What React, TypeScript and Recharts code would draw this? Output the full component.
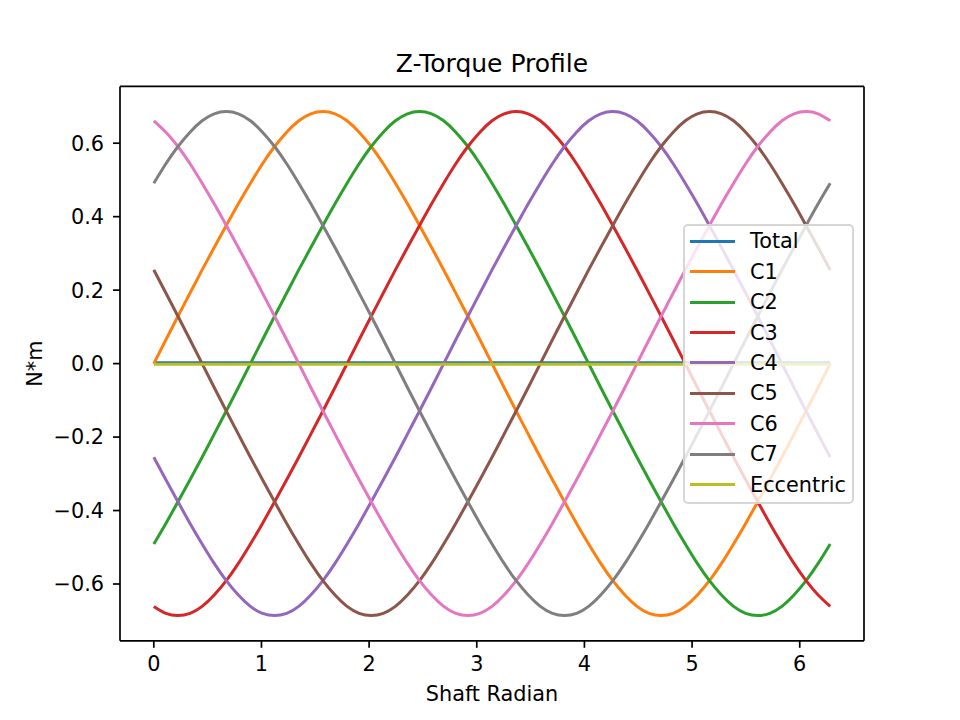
import { LineChart, Line, XAxis, YAxis, Legend, ReferenceLine } from 'recharts';

// shaft angle samples (rad)
const radians = [
  0, 0.1122, 0.2244, 0.3366, 0.4488, 0.561, 0.6732, 0.7854, 0.8976, 1.0098,
  1.122, 1.2342, 1.3464, 1.4586, 1.5708, 1.683, 1.7952, 1.9074, 2.0196, 2.1318,
  2.244, 2.3562, 2.4684, 2.5806, 2.6928, 2.805, 2.9172, 3.0294, 3.1416, 3.2538,
  3.366, 3.4782, 3.5904, 3.7026, 3.8148, 3.927, 4.0392, 4.1514, 4.2636, 4.3758,
  4.488, 4.6002, 4.7124, 4.8246, 4.9368, 5.049, 5.1612, 5.2734, 5.3856, 5.4978,
  5.61, 5.7222, 5.8344, 5.9466, 6.0588, 6.171, 6.2832,
];

const total = [
  0.002, 0.002, 0.002, 0.002, 0.002, 0.002, 0.002, 0.002, 0.002, 0.002,
  0.002, 0.002, 0.002, 0.002, 0.002, 0.002, 0.002, 0.002, 0.002, 0.002,
  0.002, 0.002, 0.002, 0.002, 0.002, 0.002, 0.002, 0.002, 0.002, 0.002,
  0.002, 0.002, 0.002, 0.002, 0.002, 0.002, 0.002, 0.002, 0.002, 0.002,
  0.002, 0.002, 0.002, 0.002, 0.002, 0.002, 0.002, 0.002, 0.002, 0.002,
  0.002, 0.002, 0.002, 0.002, 0.002, 0.002, 0.002,
];
const c1 = [
  0, 0.065, 0.129, 0.192, 0.255, 0.316, 0.376, 0.435, 0.491, 0.544,
  0.591, 0.63, 0.661, 0.68, 0.686, 0.68, 0.661, 0.63, 0.591, 0.544,
  0.491, 0.435, 0.376, 0.316, 0.255, 0.192, 0.129, 0.065, 0, -0.065,
  -0.129, -0.192, -0.255, -0.316, -0.376, -0.435, -0.491, -0.544, -0.591, -0.63,
  -0.661, -0.68, -0.686, -0.68, -0.661, -0.63, -0.591, -0.544, -0.491, -0.435,
  -0.376, -0.316, -0.255, -0.192, -0.129, -0.065, 0,
];
const c2 = [
  -0.491, -0.435, -0.376, -0.316, -0.255, -0.192, -0.129, -0.065, 0, 0.065,
  0.129, 0.192, 0.255, 0.316, 0.376, 0.435, 0.491, 0.544, 0.591, 0.63,
  0.661, 0.68, 0.686, 0.68, 0.661, 0.63, 0.591, 0.544, 0.491, 0.435,
  0.376, 0.316, 0.255, 0.192, 0.129, 0.065, 0, -0.065, -0.129, -0.192,
  -0.255, -0.316, -0.376, -0.435, -0.491, -0.544, -0.591, -0.63, -0.661, -0.68,
  -0.686, -0.68, -0.661, -0.63, -0.591, -0.544, -0.491,
];
const c3 = [
  -0.661, -0.68, -0.686, -0.68, -0.661, -0.63, -0.591, -0.544, -0.491, -0.435,
  -0.376, -0.316, -0.255, -0.192, -0.129, -0.065, 0, 0.065, 0.129, 0.192,
  0.255, 0.316, 0.376, 0.435, 0.491, 0.544, 0.591, 0.63, 0.661, 0.68,
  0.686, 0.68, 0.661, 0.63, 0.591, 0.544, 0.491, 0.435, 0.376, 0.316,
  0.255, 0.192, 0.129, 0.065, 0, -0.065, -0.129, -0.192, -0.255, -0.316,
  -0.376, -0.435, -0.491, -0.544, -0.591, -0.63, -0.661,
];
const c4 = [
  -0.255, -0.316, -0.376, -0.435, -0.491, -0.544, -0.591, -0.63, -0.661, -0.68,
  -0.686, -0.68, -0.661, -0.63, -0.591, -0.544, -0.491, -0.435, -0.376, -0.316,
  -0.255, -0.192, -0.129, -0.065, 0, 0.065, 0.129, 0.192, 0.255, 0.316,
  0.376, 0.435, 0.491, 0.544, 0.591, 0.63, 0.661, 0.68, 0.686, 0.68,
  0.661, 0.63, 0.591, 0.544, 0.491, 0.435, 0.376, 0.316, 0.255, 0.192,
  0.129, 0.065, 0, -0.065, -0.129, -0.192, -0.255,
];
const c5 = [
  0.255, 0.192, 0.129, 0.065, 0, -0.065, -0.129, -0.192, -0.255, -0.316,
  -0.376, -0.435, -0.491, -0.544, -0.591, -0.63, -0.661, -0.68, -0.686, -0.68,
  -0.661, -0.63, -0.591, -0.544, -0.491, -0.435, -0.376, -0.316, -0.255, -0.192,
  -0.129, -0.065, 0, 0.065, 0.129, 0.192, 0.255, 0.316, 0.376, 0.435,
  0.491, 0.544, 0.591, 0.63, 0.661, 0.68, 0.686, 0.68, 0.661, 0.63,
  0.591, 0.544, 0.491, 0.435, 0.376, 0.316, 0.255,
];
const c6 = [
  0.661, 0.63, 0.591, 0.544, 0.491, 0.435, 0.376, 0.316, 0.255, 0.192,
  0.129, 0.065, 0, -0.065, -0.129, -0.192, -0.255, -0.316, -0.376, -0.435,
  -0.491, -0.544, -0.591, -0.63, -0.661, -0.68, -0.686, -0.68, -0.661, -0.63,
  -0.591, -0.544, -0.491, -0.435, -0.376, -0.316, -0.255, -0.192, -0.129, -0.065,
  0, 0.065, 0.129, 0.192, 0.255, 0.316, 0.376, 0.435, 0.491, 0.544,
  0.591, 0.63, 0.661, 0.68, 0.686, 0.68, 0.661,
];
const c7 = [
  0.491, 0.544, 0.591, 0.63, 0.661, 0.68, 0.686, 0.68, 0.661, 0.63,
  0.591, 0.544, 0.491, 0.435, 0.376, 0.316, 0.255, 0.192, 0.129, 0.065,
  0, -0.065, -0.129, -0.192, -0.255, -0.316, -0.376, -0.435, -0.491, -0.544,
  -0.591, -0.63, -0.661, -0.68, -0.686, -0.68, -0.661, -0.63, -0.591, -0.544,
  -0.491, -0.435, -0.376, -0.316, -0.255, -0.192, -0.129, -0.065, 0, 0.065,
  0.129, 0.192, 0.255, 0.316, 0.376, 0.435, 0.491,
];
const eccentric = [
  -0.002, -0.002, -0.002, -0.002, -0.002, -0.002, -0.002, -0.002, -0.002, -0.002,
  -0.002, -0.002, -0.002, -0.002, -0.002, -0.002, -0.002, -0.002, -0.002, -0.002,
  -0.002, -0.002, -0.002, -0.002, -0.002, -0.002, -0.002, -0.002, -0.002, -0.002,
  -0.002, -0.002, -0.002, -0.002, -0.002, -0.002, -0.002, -0.002, -0.002, -0.002,
  -0.002, -0.002, -0.002, -0.002, -0.002, -0.002, -0.002, -0.002, -0.002, -0.002,
  -0.002, -0.002, -0.002, -0.002, -0.002, -0.002, -0.002,
];

const seriesNames = ['Total', 'C1', 'C2', 'C3', 'C4', 'C5', 'C6', 'C7', 'Eccentric'];
const seriesColors = ['#1f77b4', '#ff7f0e', '#2ca02c', '#d62728', '#9467bd', '#8c564b', '#e377c2', '#7f7f7f', '#bcbd22'];
const seriesValues = [total, c1, c2, c3, c4, c5, c6, c7, eccentric];

const xTicks = [0, 1, 2, 3, 4, 5, 6];
const yTicks = [-0.6, -0.4, -0.2, 0, 0.2, 0.4, 0.6];

const data = radians.map((x, i) => {
  const row: Record<string, number> = { x };
  seriesNames.forEach((name, k) => {
    row[name] = seriesValues[k][i];
  });
  return row;
});

const xDomain = [-0.314, 6.597];
const yDomain = [-0.7546, 0.7546];
const FS = 20.8;
const axisStyle = { stroke: '#000', strokeWidth: 1.7 };

const fmtY = (v: number) => (v < 0 ? '\u2212' + Math.abs(v).toFixed(1) : v.toFixed(1));

const LegendBox = () => (
  <div
    style={{
      boxSizing: 'border-box',
      width: 171,
      height: 280,
      background: 'rgba(255,255,255,0.8)',
      border: '2px solid rgba(204,204,204,0.8)',
      borderRadius: 5,
      paddingLeft: 5,
      fontSize: FS,
      color: '#000',
    }}
  >
    {seriesNames.map((name, k) => (
      <div key={name} style={{ display: 'flex', alignItems: 'center', height: 30.45 }}>
        <span style={{ display: 'inline-block', width: 45, height: 3, background: seriesColors[k] }} />
        <span style={{ marginLeft: 15, whiteSpace: 'nowrap' }}>{name}</span>
      </div>
    ))}
  </div>
);

export default function App() {
  return (
    <div style={{ position: 'absolute', left: 0, top: 0, fontFamily: 'DejaVu Sans', background: '#fff' }}>
      <LineChart width={960} height={720} data={data} margin={{ top: 86.4, right: 96, bottom: 19.2, left: 0 }}>
        <XAxis
          dataKey="x"
          type="number"
          domain={xDomain}
          ticks={xTicks}
          allowDataOverflow
          height={60}
          tickSize={7}
          tickMargin={8}
          axisLine={axisStyle}
          tickLine={axisStyle}
          tick={{ fill: '#000', fontSize: FS }}
          label={{ value: 'Shaft Radian', position: 'insideBottom', offset: 0, fill: '#000', fontSize: FS }}
        />
        <YAxis
          type="number"
          domain={yDomain}
          ticks={yTicks}
          allowDataOverflow
          width={120}
          tickSize={7}
          tickMargin={9}
          axisLine={axisStyle}
          tickLine={axisStyle}
          tick={{ fill: '#000', fontSize: FS }}
          tickFormatter={fmtY}
          label={{
            content: (p: any) => {
              const vb = p.viewBox;
              const cx = vb.x + 35;
              const cy = vb.y + vb.height / 2;
              return (
                <text
                  x={cx}
                  y={cy}
                  transform={`rotate(-90 ${cx} ${cy})`}
                  textAnchor="middle"
                  dominantBaseline="central"
                  fontSize={FS}
                  fill="#000"
                >
                  N*m
                </text>
              );
            },
          }}
        />
        {seriesNames.map((name, k) => (
          <Line
            key={name}
            type="natural"
            dataKey={name}
            stroke={seriesColors[k]}
            strokeWidth={3}
            dot={false}
            isAnimationActive={false}
          />
        ))}
        {/* top and right spines, title sits on the top one */}
        <ReferenceLine
          y={yDomain[1]}
          ifOverflow="visible"
          stroke="#000"
          strokeWidth={1.7}
          label={{ value: 'Z-Torque Profile', position: 'top', offset: 14, fill: '#000', fontSize: 25 }}
        />
        <ReferenceLine x={xDomain[1]} ifOverflow="visible" stroke="#000" strokeWidth={1.7} />
        <Legend
          layout="vertical"
          align="center"
          verticalAlign="middle"
          content={() => <LegendBox />}
          wrapperStyle={{ left: 683, top: 224, width: 171, height: 280, right: 'auto', bottom: 'auto' }}
        />
      </LineChart>
    </div>
  );
}
